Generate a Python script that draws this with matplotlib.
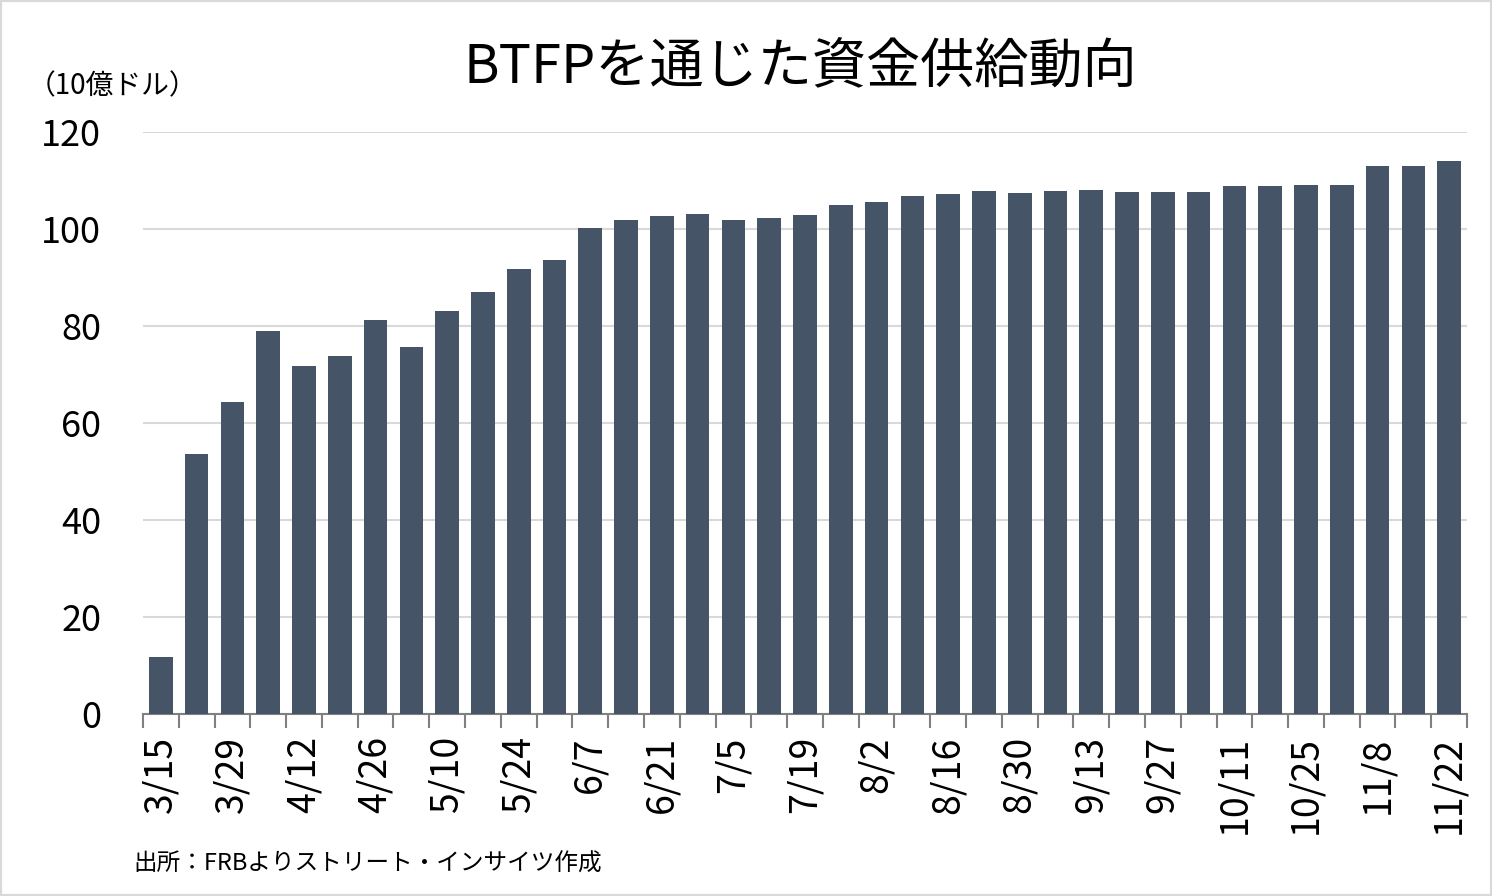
import numpy as np
import matplotlib
matplotlib.use("Agg")
import matplotlib.pyplot as plt
from matplotlib.patches import Rectangle

plt.rcParams['font.family'] = ['Noto Sans CJK JP', 'DejaVu Sans']

dates = ["3/15", "3/22", "3/29", "4/5", "4/12", "4/19", "4/26", "5/3", "5/10", "5/17",
         "5/24", "5/31", "6/7", "6/14", "6/21", "6/28", "7/5", "7/12", "7/19", "7/26",
         "8/2", "8/9", "8/16", "8/23", "8/30", "9/6", "9/13", "9/20", "9/27", "10/4",
         "10/11", "10/18", "10/25", "11/1", "11/8", "11/15", "11/22"]
values = [11.8, 53.6, 64.3, 79.0, 71.8, 73.8, 81.2, 75.7, 83.1, 87.0,
          91.8, 93.6, 100.2, 101.9, 102.7, 103.1, 101.9, 102.3, 102.9, 104.9,
          105.6, 106.8, 107.2, 107.8, 107.4, 107.8, 108.0, 107.6, 107.6, 107.6,
          108.9, 108.9, 109.1, 109.1, 113.0, 113.0, 114.0]
yticks = [0, 20, 40, 60, 80, 100, 120]

W, H = 1492, 896
fig = plt.figure(figsize=(W / 100, H / 100), dpi=100)
ax = fig.add_axes([143 / W, 1 - 714 / H, (1467 - 143) / W, (714 - 132) / H])

x = np.arange(len(values))
ax.bar(x, values, width=0.66, color="#465468", zorder=3)

ax.set_xlim(-0.5, len(values) - 0.5)
ax.set_ylim(0, 120)
ax.set_yticks(yticks)
ax.tick_params(axis="y", length=0, labelsize=26, pad=30)
ax.yaxis.grid(True, color="#d9d9d9", linewidth=1.5, zorder=0)

# labels under every other bar, tick marks on category boundaries
ax.set_xticks(x[::2])
ax.set_xticklabels(dates[::2], rotation=90, fontsize=27)
ax.tick_params(axis="x", which="major", length=0, pad=16)
ax.set_xticks(np.arange(len(values) + 1) - 0.5, minor=True)
ax.tick_params(axis="x", which="minor", length=10, width=1.5, color="#808080")

for s in ["top", "right", "left"]:
    ax.spines[s].set_visible(False)
ax.spines["bottom"].set_color("#808080")
ax.spines["bottom"].set_linewidth(1.5)

fig.text(800 / W, 1 - 68 / H, "BTFPを通じた資金供給動向", fontsize=39,
         ha="center", va="center")
fig.text(28 / W, 1 - 86 / H, "（10億ドル）", fontsize=20, ha="left", va="center")
fig.text(133 / W, 1 - 864 / H, "出所：FRBよりストリート・インサイツ作成", fontsize=17,
         ha="left", va="center")

fig.patches.append(Rectangle((0, 0), 1, 1, transform=fig.transFigure, fill=False,
                             edgecolor="#d9d9d9", linewidth=3))

fig.savefig("out.png", dpi=100)
